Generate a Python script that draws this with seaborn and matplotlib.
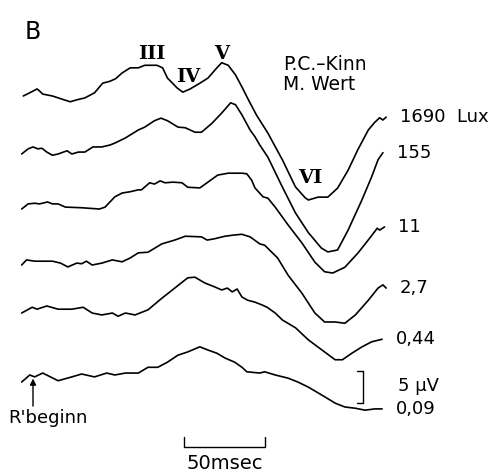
import numpy as np
import pandas as pd
import matplotlib
matplotlib.use("Agg")
import matplotlib.pyplot as plt
import seaborn as sns

# Stimulus intensities, top trace to bottom trace
intensities = ["1690  Lux", "155", "11", "2,7", "0,44", "0,09"]

# Averaged responses: time after R' onset (ms) and amplitude (µV)
t_1690 = [-6, -2, 2.5, 4, 6, 12, 18, 23, 27, 32, 38, 43, 47.5, 51, 55, 60, 65, 69, 76.5, 80,
          83, 89, 92.5, 97, 103, 108, 113.5, 116.5, 120.5, 125, 129, 133, 138, 145, 154, 162,
          168, 170, 176, 182, 188, 194.5, 200.5, 207, 211, 214, 216, 218]
v_1690 = [0, 0.5, 1.1, 0.8, 0.3, 0, -0.5, -0.9, -0.6, -0.3, 0.5, 2.0, 2.3, 2.7, 3.6, 4.4, 4.4, 4.8, 4.8, 4.4,
          2.8, 1.25, 0.6, 1.1, 2.0, 2.8, 4.4, 5.2, 4.8, 3.3, 1.4, -0.6, -3.0, -5.8, -10.0, -14.2,
          -15.9, -16.25, -15.8, -15.8, -14.4, -11.6, -8.4, -5.3, -4.1, -3.4, -3.75, -3.3]

t_155 = [-7, -3, 0, 3, 5.5, 8.5, 12, 15.5, 21, 24, 28, 32, 37, 42.5, 47.5, 50.5, 57, 65, 69, 75,
         79, 83, 89.5, 94, 100, 104, 110.5, 116.5, 122, 125, 129, 134, 137, 140, 145, 154, 162,
         170, 178, 182, 188, 194.5, 203, 209, 213, 216]
v_155 = [0, 0.8, 1.1, 0.8, 0.9, 0.3, -0.2, 0, 0.5, 0, 0.3, 0.3, 1.1, 1.1, 1.4, 1.7, 2.5, 3.75, 4.2, 5.2,
         5.6, 5.2, 4.2, 4.1, 3.4, 3.4, 4.8, 6.4, 8.0, 7.7, 6.1, 3.75, 2.7, 1.4, -0.5, -5.2, -9.2,
         -12.3, -14.7, -15.3, -15.0, -11.9, -7.2, -3.6, -0.9, 0.2]

t_11 = [-7, -3, 1, 4, 9, 12, 15.5, 20, 30, 41, 44.5, 50.5, 55, 60, 65, 67, 72, 75, 78.5, 81.5,
        86.5, 92, 95.5, 103, 108, 114, 120.5, 129, 132, 135, 137, 142, 145, 149.5, 157.5, 166,
        174, 180, 185, 192.5, 200.5, 208, 212.5, 214, 217]
v_11 = [0, 0.8, 0.9, 0.8, 1.1, 0.8, 0.8, 0.3, 0.2, 0, 0.3, 1.9, 2.5, 2.7, 3.0, 3.0, 4.1, 3.9, 4.4, 4.1,
        4.2, 4.1, 3.4, 3.3, 4.2, 5.3, 5.6, 5.6, 5.5, 4.5, 3.3, 1.9, 1.7, 0.3, -2.5, -5.3,
        -8.3, -9.8, -10.0, -9.1, -6.9, -4.5, -3.0, -3.3, -2.8]

t_2_7 = [-7, -4, 1, 5.5, 12, 17, 21.5, 27, 30, 33, 36.5, 42.5, 49, 55, 60, 65, 71, 79.5, 87.5, 94,
         104, 107.5, 112, 118.5, 124.5, 129, 134, 140, 143, 151, 157.5, 166, 174, 180, 186.5,
         192.5, 199, 207, 213, 216, 218]
v_2_7 = [0, 0.8, 0.6, 0.6, 0.6, 0.3, -0.3, 0.3, 0.2, 0.6, 0, 0.3, 0.8, 0.5, 1.1, 1.9, 2.0, 3.3, 3.9, 4.5,
         4.4, 3.9, 4.1, 4.5, 4.7, 4.8, 4.4, 3.3, 3.1, 1.1, -1.6, -4.4, -7.5, -8.9, -8.9,
         -9.1, -7.8, -5.5, -3.6, -3.1, -3.6]

t_0_44 = [-7, -0.5, 2.5, 8.5, 15.5, 24, 31, 36.5, 42.5, 49, 52.5, 57, 63, 71, 79.5, 87.5, 95.5, 100,
          106, 112, 116.5, 120, 123, 126, 129, 132.5, 137, 141.5, 144.5, 149.5, 154, 162, 170,
          178.5, 186.5, 191, 197, 203, 209, 215.5]
v_0_44 = [0, 0.9, 0.6, 1.1, 0.6, 0.6, 0.9, 0, -0.3, 0, -0.5, 0, -0.3, 0.5, 2.3, 3.9, 5.5, 5.6,
          4.7, 4.1, 3.6, 3.9, 3.3, 3.75, 2.5, 2.0, 1.7, 1.25, 0.9, 0, -1.1, -2.3, -4.2,
          -5.8, -7.3, -7.3, -6.25, -5.3, -4.5, -4.1]

t_0_09 = [-7, -2, 1, 6, 15.5, 24, 30, 38, 45.5, 50.5, 57, 65, 71, 77, 83, 89.5, 95.5, 103, 108,
          113.5, 118.5, 124.5, 129, 132, 140, 143, 149.5, 157.5, 163.5, 170, 176, 180, 186.5,
          192.5, 199, 205, 211, 215.5]
v_0_09 = [0, 1.1, 0.8, 1.4, 0.2, 0.8, 1.25, 0.8, 1.4, 1.1, 1.4, 1.4, 2.3, 2.3, 3.1, 4.2, 4.7, 5.5, 5.0,
          4.5, 3.75, 3.1, 2.3, 1.6, 1.4, 1.6, 1.1, 0.6, 0, -0.8, -1.7, -2.3, -3.3,
          -3.9, -4.1, -4.4, -4.2, -4.2]

times = [t_1690, t_155, t_11, t_2_7, t_0_44, t_0_09]
volts = [v_1690, v_155, v_11, v_2_7, v_0_44, v_0_09]

# Wave names marked on the top trace
peak_names = ["III", "IV", "V", "VI"]

# Calibration bars
bar_ms = 50
bar_uv = 5

# Vertical stacking of the traces (µV above the bottom of the panel)
stack = [58.75, 49.69, 41.09, 32.34, 24.84, 14.06]

sns.set_style("white")
plt.rcParams["font.family"] = ["DejaVu Sans"]
plt.rcParams["text.color"] = "black"

fig = plt.figure(figsize=(4.9, 4.72), dpi=100)
ax = fig.add_axes([0, 0, 1, 1])
ax.set_xlim(-20.37, 282.1)
ax.set_ylim(0, 73.75)
ax.axis("off")

frames = []
for name, t, v, off in zip(intensities, times, volts, stack):
    frames.append(pd.DataFrame({"t": t, "uv": np.array(v) + off, "lux": name}))
df = pd.concat(frames, ignore_index=True)

for name, sub in df.groupby("lux", sort=False):
    sns.lineplot(data=sub, x="t", y="uv", color="black", linewidth=1.2,
                 estimator=None, sort=False, ax=ax)
    ax.text(sub["t"].iloc[-1] + 8.5, sub["uv"].iloc[-1], name,
            fontsize=13, va="center", ha="left")

# Roman numerals of the waves on the top trace
peak_pos = [(73.5, 65.3), (95.7, 61.7), (116.7, 65.3), (171.0, 45.9)]
for lab, (x, y) in zip(peak_names, peak_pos):
    ax.text(x, y, lab, fontsize=14, family="DejaVu Serif", fontweight="bold",
            ha="center", va="center")

# Panel letter and subject
ax.text(-5.0, 68.8, "B", fontsize=17, va="center", ha="left")
ax.text(154.3, 63.6, "P.C.\u2013Kinn", fontsize=13.5, va="center", ha="left")
ax.text(154.3, 60.5, "M. Wert", fontsize=13.5, va="center", ha="left")

# Time calibration bar
x0, yb = 93.2, 3.9
ax.plot([x0, x0, x0 + bar_ms, x0 + bar_ms], [yb + 1.5, yb, yb, yb + 1.5],
        color="black", linewidth=1.0)
ax.text(x0 + bar_ms / 2, 1.4, f"{bar_ms}msec", fontsize=14, ha="center", va="center")

# Amplitude calibration bar
xv, y0 = 203.7, 10.78
ax.plot([xv - 3.5, xv, xv, xv - 3.5], [y0 + bar_uv, y0 + bar_uv, y0, y0],
        color="black", linewidth=1.0)
ax.text(225.3, 13.5, f"{bar_uv} µV", fontsize=13, va="center", ha="left")

# Onset marker
ax.annotate("", xy=(0, 14.6), xytext=(0, 10.3),
            arrowprops=dict(arrowstyle="-|>", color="black", lw=1.0,
                            mutation_scale=9, shrinkA=0, shrinkB=0))
ax.text(-15.5, 8.4, "R'beginn", fontsize=13, va="center", ha="left")

fig.savefig("out.png", dpi=100)
